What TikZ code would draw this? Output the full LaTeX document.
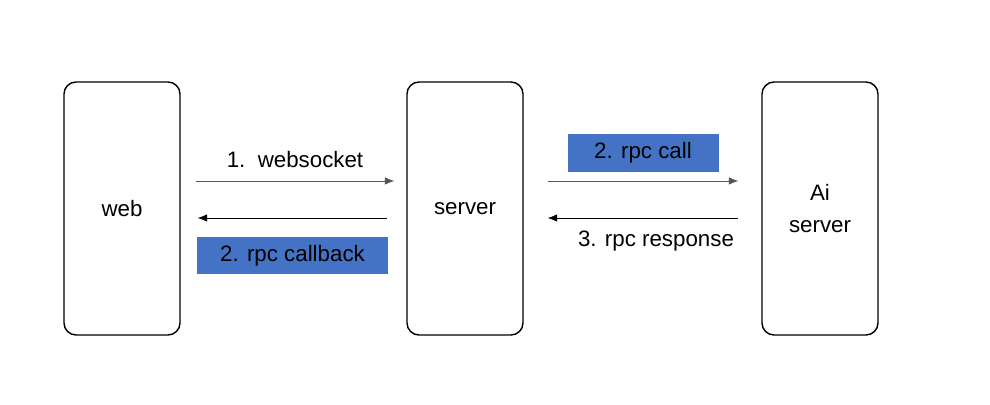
\documentclass[tikz,border=0pt]{standalone}
\usepackage{fontspec}
\setmainfont{Liberation Sans}
\usepackage{color}
\usetikzlibrary{calc, arrows.meta}
\definecolor{tagblue}{HTML}{4472C4}
\definecolor{linegray}{HTML}{555555}

\begin{document}
\begin{tikzpicture}[>={Latex[length=1.9mm, width=1.5mm]}, font=\fontsize{12.7}{15}\selectfont,
        box/.style={draw, thick, rounded corners=0.24cm, minimum width=2.32cm, minimum height=5.06cm, align=center},
        tag/.style={fill=tagblue, inner sep=0pt}]
        \useasboundingbox (0,0) rectangle (19.8,8.08);
        \node[box] (W) at (2.44, 3.91) {web};
        \node[box] (S) at (9.30, 3.91) {server};
        \node[box, font=\fontsize{12.7}{18}\selectfont] (A) at (16.40, 3.91) {Ai\\server};
        \draw[->, linegray] ($(W.east)+(0.3,0.55)$) to node[midway, above=4pt, text=black] {1.\ \ websocket} ($(S.west)+(-0.24,0.55)$);
        \draw[->] ($(S.west)+(-0.38,-0.19)$) to node[midway, below=0.38cm, tag, minimum width=3.82cm, minimum height=0.74cm] {2. rpc callback} ($(W.east)+(0.34,-0.19)$);
        \draw[->, linegray] ($(S.east)+(0.48,0.55)$) to node[midway, above=0.18cm, tag, minimum width=3.02cm, minimum height=0.76cm, text=black] {2. rpc call} ($(A.west)+(-0.46,0.55)$);
        \draw[->] ($(A.west)+(-0.46,-0.19)$) to node[midway, below=4pt, xshift=0.26cm] {3. rpc response} ($(S.east)+(0.48,-0.19)$);
    \end{tikzpicture}
\end{document}
